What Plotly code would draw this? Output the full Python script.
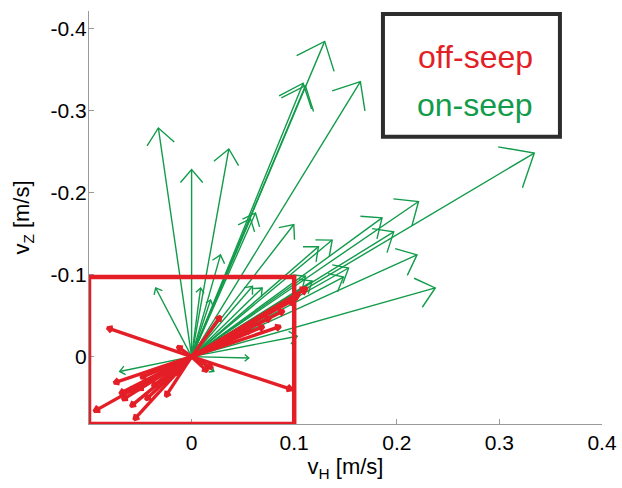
import math
import plotly.graph_objects as go

# ---------------- data (velocity vectors from origin) ----------------
# on-seep (green): horizontal velocity v_H and vertical velocity v_Z [m/s]
on_vh = [0.1297, 0.1087, 0.1109, 0.1645, -0.0324, 0.0000, 0.0363, 0.3340,
         0.0623, 0.0574, 0.0996, 0.0282, 0.1236, 0.2212, 0.1856, 0.1970,
         0.1370, 0.2197, 0.1530, 0.1480, 0.2375, 0.1110, 0.1175, -0.0350,
         0.0088, 0.0185, 0.0594, 0.0688, 0.1029, 0.0557, 0.0217, -0.0701]
on_vz = [-0.384, -0.333, -0.330, -0.335, -0.2785, -0.228, -0.253, -0.248,
         -0.175, -0.168, -0.161, -0.124, -0.134, -0.189, -0.169, -0.152,
         -0.142, -0.124, -0.108, -0.097, -0.0837, -0.098, -0.092, -0.0837,
         -0.0837, -0.069, -0.0857, -0.0837, -0.0249, 0.0016, 0.018, 0.018]

# off-seep (red)
off_vh = [-0.0822, 0.0980, -0.0951, -0.0561, -0.0756, -0.0674, -0.0594, -0.0610,
          -0.0253, -0.0382, -0.0156, 0.0153, -0.0139, 0.0282, 0.1126, 0.0996,
          0.0866, 0.0704, 0.0201, -0.0496, -0.0448, 0.0574, 0.0769, -0.0700,
          -0.0520, 0.0900, 0.1050, -0.0300]
off_vz = [-0.035, 0.040, 0.0666, 0.0767, 0.032, 0.0524, 0.0605, 0.0423,
          0.0484, 0.0362, 0.0219, 0.0179, -0.0125, -0.0491, -0.0837, -0.0694,
          -0.0369, -0.0369, 0.0138, 0.0256, 0.0524, -0.0329, -0.0475, 0.0450,
          0.0400, -0.0560, -0.0760, 0.0330]

x_tickvals = [0, 0.1, 0.2, 0.3, 0.4]
x_ticktext = ["0", "0.1", "0.2", "0.3", "0.4"]
y_tickvals = [-0.4, -0.3, -0.2, -0.1, 0]
y_ticktext = ["-0.4", "-0.3", "-0.2", "-0.1", "0"]

legend_labels = ["off-seep", "on-seep"]

# ---------------- layout constants ----------------
W, H = 622, 488
ML, MR, MT, MB = 89, 20, 11, 64
XR = [-0.1, 0.4]
YR = [0.082, -0.421]          # reversed: negative (upward) velocities on top
RED = "#E41E26"
GREEN = "#119B4A"
FONT = "Liberation Sans, Arial, sans-serif"

# pixel per data unit (used only for drawing symmetric arrow heads)
kx = (W - ML - MR) / (XR[1] - XR[0])
ky = (H - MT - MB) / (YR[0] - YR[1])


def arrow_paths(us, vs, frac, ratio, min_back):
    xs, ys = [], []
    for u, v in zip(us, vs):
        sx, sy = u * kx, v * ky
        L = math.hypot(sx, sy)
        if L == 0:
            continue
        dx, dy = sx / L, sy / L
        back = max(frac * L, min_back)
        hw = ratio * back
        bx, by = sx - back * dx, sy - back * dy
        l1 = ((bx - hw * dy) / kx, (by + hw * dx) / ky)
        l2 = ((bx + hw * dy) / kx, (by - hw * dx) / ky)
        xs += [0, u, None, l1[0], u, l2[0], None]
        ys += [0, v, None, l1[1], v, l2[1], None]
    return xs, ys


fig = go.Figure()

gx, gy = arrow_paths(on_vh, on_vz, 0.07, 0.85, 4)
fig.add_trace(go.Scatter(x=gx, y=gy, mode="lines", name=legend_labels[1],
                         line=dict(color=GREEN, width=1.4), hoverinfo="skip"))

rx, ry = arrow_paths(off_vh, off_vz, 0.05, 0.55, 5)
fig.add_trace(go.Scatter(x=rx, y=ry, mode="lines", name=legend_labels[0],
                         line=dict(color=RED, width=3.4), hoverinfo="skip"))

# red zoom rectangle around the off-seep region
rect_x = [-0.1, 0.1]
rect_y = [-0.097, 0.082]
fig.add_shape(type="rect", xref="x", yref="y", x0=rect_x[0], x1=rect_x[1],
              y0=rect_y[0], y1=rect_y[1], line=dict(color=RED, width=4.5),
              layer="above")

# legend box
fig.add_shape(type="rect", xref="paper", yref="paper", x0=0.573, x1=0.918,
              y0=0.6957, y1=0.9928, line=dict(color="#2d2d2d", width=4),
              fillcolor="rgba(0,0,0,0)", layer="above")
fig.add_annotation(xref="paper", yref="paper", x=0.753, y=0.888,
                   xanchor="center", yanchor="middle",
                   text=legend_labels[0], showarrow=False,
                   font=dict(family=FONT, size=32, color=RED))
fig.add_annotation(xref="paper", yref="paper", x=0.753, y=0.772,
                   xanchor="center", yanchor="middle",
                   text=legend_labels[1], showarrow=False,
                   font=dict(family=FONT, size=32, color=GREEN))

axis_common = dict(showline=True, linecolor="#9a9a9a", linewidth=1,
                   ticks="inside", ticklen=5, tickcolor="#9a9a9a",
                   showgrid=False, zeroline=False, automargin=False,
                   tickfont=dict(family=FONT, size=21, color="black"))

fig.update_layout(
    width=W, height=H,
    margin=dict(l=ML, r=MR, t=MT, b=MB),
    plot_bgcolor="white", paper_bgcolor="white",
    showlegend=False,
    xaxis=dict(range=XR, tickvals=x_tickvals, ticktext=x_ticktext,
               title=dict(text="v<sub>H</sub> [m/s]", standoff=2,
                          font=dict(family=FONT, size=22, color="black")),
               **axis_common),
    yaxis=dict(range=YR, tickvals=y_tickvals, ticktext=y_ticktext,
               ticklabelstandoff=-3,
               title=dict(text="v<sub>Z</sub> [m/s]", standoff=14,
                          font=dict(family=FONT, size=22, color="black")),
               **axis_common),
)

fig.write_html("out.html", config={"displayModeBar": False},
               post_script="document.body.style.margin='0';")
